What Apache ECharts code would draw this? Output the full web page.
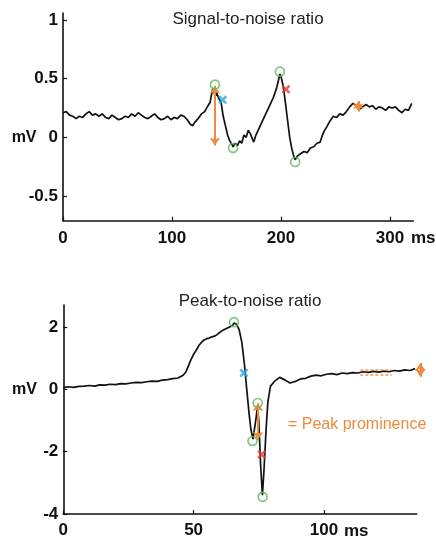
<!DOCTYPE html>
<html>
<head>
<meta charset="utf-8">
<script src="https://cdn.jsdelivr.net/npm/echarts@6/dist/echarts.min.js"></script>
<style>
html,body{margin:0;padding:0;background:#fff;}
#c{width:436px;height:540px;}
</style>
</head>
<body>
<div id="c"></div>
<script>
// ---------- Top panel: Signal-to-noise ratio ----------
var snrTime = [0,3,6,9,12,15,18,21,24,27,30,33,36,39,42,45,48,51,54,57,60,63,66,69,72,75,78,81,84,87,90,93,96,99,102,105,108,111,114,117,119,121,124,127,130,133,135,137,138,139.5,141,143,145,147,149,151,153,155,156,158,160,162,164,166,168,170,172,174,175,177,179,181,184,187,190,193,196,198,199,200,202,204,206,208,210,212,213,215,218,221,224,227,230,233,236,238,240,242,245,248,251,254,257,260,263,266,269,272,275,278,281,284,287,290,293,296,299,302,305,308,311,314,317,320];
var snrVolt = [0.21,0.22,0.19,0.18,0.16,0.18,0.17,0.20,0.22,0.19,0.20,0.18,0.20,0.17,0.16,0.19,0.17,0.15,0.16,0.18,0.17,0.20,0.18,0.21,0.19,0.17,0.16,0.18,0.20,0.17,0.15,0.16,0.18,0.15,0.17,0.16,0.19,0.18,0.15,0.11,0.10,0.13,0.16,0.20,0.22,0.27,0.30,0.40,0.42,0.35,0.38,0.33,0.30,0.18,0.10,0.02,-0.03,-0.06,-0.08,-0.05,-0.07,-0.03,-0.05,0.02,0.00,0.06,0.03,-0.02,-0.04,0.02,0.06,0.10,0.16,0.22,0.28,0.34,0.42,0.50,0.54,0.52,0.44,0.30,0.15,0.00,-0.10,-0.17,-0.19,-0.16,-0.14,-0.12,-0.13,-0.09,-0.08,-0.05,-0.04,0.02,0.06,0.09,0.14,0.18,0.17,0.20,0.19,0.22,0.26,0.29,0.27,0.24,0.26,0.28,0.26,0.27,0.24,0.26,0.25,0.23,0.26,0.25,0.26,0.23,0.21,0.24,0.23,0.29];
var snrPeakX = [139.4, 156, 199, 213];
var snrPeakY = [0.45, -0.09, 0.56, -0.21];
var snrBlueX = [146.5]; var snrBlueY = [0.32];
var snrRedX = [204.5];  var snrRedY = [0.41];
var snrArrowX = [139.4, 271]; var snrArrowTop = [0.44, 0.31]; var snrArrowBottom = [-0.07, 0.22];
var snrYTicks = [-0.5, 0, 0.5, 1];
var snrXTicks = [0, 100, 200, 300];

// ---------- Bottom panel: Peak-to-noise ratio ----------
var pnrTime = [0,2,4,6,8,10,12,14,16,18,20,22,24,26,28,30,32,34,36,38,40,42,44,46,47,48,49,50,51,52,53,54,55,56,57,58,59,60,61,62,63,64,65,65.5,66.5,67.5,68.5,69.5,70.5,71.3,72,72.8,73.3,74,74.5,75,75.7,76.4,77,77.8,78.5,79.5,81,83,85,87,89,91,93,95,97,99,101,103,105,107,109,111,113,115,117,119,121,123,125,127,129,131,133,135];
var pnrVolt = [0.05,0.08,0.06,0.09,0.10,0.12,0.10,0.14,0.13,0.16,0.15,0.18,0.17,0.20,0.22,0.21,0.24,0.26,0.25,0.29,0.31,0.34,0.36,0.45,0.55,0.75,0.95,1.12,1.25,1.40,1.50,1.58,1.62,1.64,1.68,1.70,1.75,1.82,1.88,1.92,1.96,2.00,2.05,2.12,2.08,1.90,1.50,0.80,-0.10,-0.80,-1.30,-1.60,-1.58,-0.90,-0.55,-1.00,-2.40,-3.40,-2.60,-1.30,-0.40,0.10,0.25,0.38,0.30,0.20,0.25,0.33,0.35,0.42,0.45,0.43,0.48,0.50,0.47,0.52,0.50,0.53,0.52,0.56,0.54,0.57,0.55,0.58,0.56,0.60,0.58,0.62,0.60,0.66];
var pnrPeakX = [65.5, 72.6, 74.6, 76.5];
var pnrPeakY = [2.15, -1.66, -0.44, -3.45];
var pnrBlueX = [69.3]; var pnrBlueY = [0.52];
var pnrRedX = [76.1];  var pnrRedY = [-2.09];
var pnrArrowX = [74.7, 137]; var pnrArrowTop = [-0.45, 0.84]; var pnrArrowBottom = [-1.62, 0.40];
var pnrNoiseX = [114, 126]; var pnrNoiseY = [0.64, 0.48];
var pnrYTicks = [-4, -2, 0, 2];
var pnrXTicks = [0, 50, 100];

var titles = ['Signal-to-noise ratio', 'Peak-to-noise ratio'];
var unitX = 'ms', unitY = 'mV';
var legendText = '= Peak prominence';

// ---------- styles ----------
var FONT = 'Liberation Sans, Arial, Helvetica, sans-serif';
var GREEN = '#5cb85c', BLUE = '#2aa8e0', RED = '#e23b35', ORANGE = '#f08a3c';
var XSHAPE = 'path://M0,2L2,0L5,3L8,0L10,2L7,5L10,8L8,10L5,7L2,10L0,8L3,5Z';

function zip(a, b) { return a.map(function (v, i) { return [v, b[i]]; }); }
function arrows(xs, tops, bots) {
  return xs.map(function (x, i) { return { coords: [[x, tops[i]], [x, bots[i]]] }; });
}

function yAxis(idx, min, max, ticks) {
  return {
    type: 'value', gridIndex: idx, min: min, max: max,
    splitLine: { show: false },
    axisLine: { show: true, onZero: false, lineStyle: { color: '#111', width: 1.6 } },
    axisTick: { show: true, inside: true, length: 4, customValues: ticks, lineStyle: { color: '#111', width: 1.2 } },
    axisLabel: {
      customValues: ticks, margin: 5, color: '#111', fontFamily: FONT, fontWeight: 'bold', fontSize: 17,
      formatter: function (v) { return v === 0 ? '{m|' + unitY + '}{n|0}' : String(v); },
      rich: {
        m: { fontFamily: FONT, fontWeight: 'bold', fontSize: 16, color: '#111', padding: [0, 12, 0, 0] },
        n: { fontFamily: FONT, fontWeight: 'bold', fontSize: 17, color: '#111' }
      }
    }
  };
}
function xAxis(idx, max, ticks, margin) {
  return {
    type: 'value', gridIndex: idx, min: 0, max: max,
    splitLine: { show: false },
    axisLine: { show: true, onZero: false, lineStyle: { color: '#111', width: 1.6 } },
    axisTick: { show: true, inside: true, length: 4, customValues: ticks, lineStyle: { color: '#111', width: 1.2 } },
    axisLabel: { customValues: ticks, margin: margin, color: '#111', fontFamily: FONT, fontWeight: 'bold', fontSize: 17 }
  };
}
function markers(idx, px, py, bx, by, rx, ry, ax, at, ab) {
  return [
    { type: 'lines', coordinateSystem: 'cartesian2d', xAxisIndex: idx, yAxisIndex: idx, z: 4, clip: false,
      symbol: ['arrow', 'arrow'], symbolSize: 8, silent: true,
      lineStyle: { color: ORANGE, width: 2, opacity: 1 },
      data: arrows(ax, at, ab) },
    { type: 'scatter', xAxisIndex: idx, yAxisIndex: idx, symbol: 'circle', symbolSize: 9, z: 5,
      itemStyle: { color: 'rgba(255,255,255,0)', borderColor: GREEN, borderWidth: 1.6 },
      data: zip(px, py) },
    { type: 'scatter', xAxisIndex: idx, yAxisIndex: idx, symbol: XSHAPE, symbolSize: 9, z: 5,
      itemStyle: { color: BLUE }, data: zip(bx, by) },
    { type: 'scatter', xAxisIndex: idx, yAxisIndex: idx, symbol: XSHAPE, symbolSize: 9, z: 5,
      itemStyle: { color: RED }, data: zip(rx, ry) }
  ];
}

var chart = echarts.init(document.getElementById('c'), null, { renderer: 'canvas' });
var option = {
  animation: false,
  backgroundColor: '#fff',
  title: [
    { text: titles[0], left: 243, top: 6, textAlign: 'center',
      textStyle: { fontFamily: FONT, fontWeight: 'normal', fontSize: 17, color: '#222' } },
    { text: titles[1], left: 245, top: 288, textAlign: 'center',
      textStyle: { fontFamily: FONT, fontWeight: 'normal', fontSize: 17, color: '#222' } }
  ],
  grid: [
    { left: 63, top: 13, width: 350.3, height: 207.7, containLabel: false },
    { left: 63.3, top: 305, width: 353.4, height: 209, containLabel: false }
  ],
  xAxis: [xAxis(0, 321.4, snrXTicks, 9), xAxis(1, 135.6, pnrXTicks, 8)],
  yAxis: [yAxis(0, -0.71, 1.06, snrYTicks), yAxis(1, -4, 2.7, pnrYTicks)],
  graphic: [
    { type: 'text', left: 411, top: 230, style: { text: unitX, fontFamily: FONT, fontWeight: 'bold', fontSize: 17, fill: '#111' } },
    { type: 'text', left: 344, top: 523, style: { text: unitX, fontFamily: FONT, fontWeight: 'bold', fontSize: 17, fill: '#111' } },
    { type: 'text', left: 288, top: 417, style: { text: legendText, fontFamily: FONT, fontSize: 16, fill: ORANGE } }
  ],
  series: [
    { type: 'line', xAxisIndex: 0, yAxisIndex: 0, data: zip(snrTime, snrVolt), showSymbol: false, z: 3,
      lineStyle: { color: '#111', width: 1.7 } },
    { type: 'line', xAxisIndex: 1, yAxisIndex: 1, data: zip(pnrTime, pnrVolt), showSymbol: false, z: 3,
      lineStyle: { color: '#111', width: 1.7 } },
    { type: 'lines', coordinateSystem: 'cartesian2d', xAxisIndex: 1, yAxisIndex: 1, z: 4, silent: true,
      symbol: ['none', 'none'],
      lineStyle: { color: ORANGE, width: 1.5, type: [3, 2], opacity: 0.9 },
      data: pnrNoiseY.map(function (y) { return { coords: [[pnrNoiseX[0], y], [pnrNoiseX[1], y]] }; }) }
  ]
    .concat(markers(0, snrPeakX, snrPeakY, snrBlueX, snrBlueY, snrRedX, snrRedY, snrArrowX, snrArrowTop, snrArrowBottom))
    .concat(markers(1, pnrPeakX, pnrPeakY, pnrBlueX, pnrBlueY, pnrRedX, pnrRedY, pnrArrowX, pnrArrowTop, pnrArrowBottom))
};
chart.setOption(option);
</script>
</body>
</html>
